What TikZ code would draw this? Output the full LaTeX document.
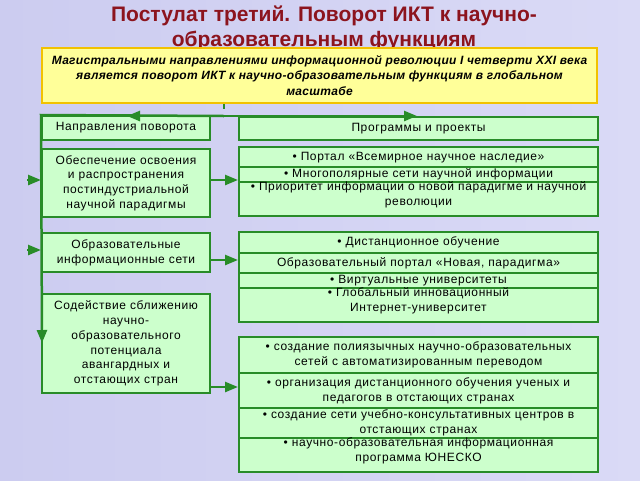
\documentclass[tikz,border=0pt]{standalone}
\usepackage{fontspec}
\setmainfont{Liberation Sans}
\newfontfamily\boxfont[LetterSpace=5]{Liberation Sans}
\newfontfamily\yelfont[LetterSpace=2.5]{Liberation Sans}
\usetikzlibrary{arrows.meta,calc}
\definecolor{bgL}{RGB}{204,204,240}
\definecolor{bgR}{RGB}{218,218,246}
\definecolor{gfill}{RGB}{204,255,204}
\definecolor{gline}{RGB}{40,140,40}
\definecolor{yfill}{RGB}{255,255,153}
\definecolor{yline}{RGB}{242,194,0}
\definecolor{ttl}{RGB}{140,20,30}
\newcommand{\toprow}[2]{\parbox[c][#1][t]{359pt}{\centering #2}}
\tikzset{
 gbox/.style={draw=gline, fill=gfill, line width=2pt, inner sep=0pt, align=center, font=\boxfont\fontsize{12}{14.7}\selectfont},
 lbox/.style={gbox, minimum width=168pt, text width=164pt},
 rbox/.style={gbox, minimum width=359pt, text width=359pt},
 conn/.style={draw=gline, line width=2.5pt},
 arr/.style={conn, -{Triangle[length=13pt,width=10pt]}},
}
\begin{document}
\begin{tikzpicture}[x=1pt,y=-1pt]
\useasboundingbox (0,0) rectangle (640,480);
\shade[left color=bgL, right color=bgR] (0,0) rectangle (640,480);
% title
\node[anchor=north, inner sep=0pt, align=center, text=ttl, font=\bfseries\fontsize{21}{25}\selectfont] (title) at (324,6)
 {Постулат третий. Поворот ИКТ к научно-\\образовательным функциям};
% yellow box
\node[draw=yline, fill=yfill, line width=2.5pt, minimum width=555pt, minimum height=55pt, inner sep=0pt, align=center,
 font=\yelfont\bfseries\itshape\fontsize{12}{15.5}\selectfont] (yel) at (319.5,75.5)
 {Магистральными направлениями информационной революции I четверти XXI века\\является поворот ИКТ к научно-образовательным функциям в глобальном\\масштабе};
% left column
\node[lbox, minimum height=24pt] (n1) at (126,128) {Направления поворота};
\node[lbox, minimum height=68pt] (n2) at (126,183) {Обеспечение освоения\\и распространения\\постиндустриальной\\научной парадигмы};
\node[lbox, minimum height=39pt] (n3) at (126,252.5) {Образовательные\\информационные сети};
\node[lbox, minimum height=99pt] (n4) at (126,343.5) {Содействие сближению\\научно-\\образовательного\\потенциала\\авангардных и\\отстающих стран};
% right column
\node[rbox, minimum height=23pt] (p0) at (418.5,128.5) {Программы и проекты};
\node[rbox, minimum height=21pt] (g1a) at (418.5,157.5) {• Портал «Всемирное научное наследие»};
\node[rbox, minimum height=15pt] (g1b) at (418.5,174.5) {• Многополярные сети научной информации};
\node[rbox, minimum height=34pt] (g1c) at (418.5,199) {\toprow{34pt}{• Приоритет информации о новой парадигме и научной\\революции}};
\node[rbox, minimum height=21pt] (g2a) at (418.5,242.5) {• Дистанционное обучение};
\node[rbox, minimum height=20pt] (g2b) at (418.5,263) {Образовательный портал «Новая, парадигма»};
\node[rbox, minimum height=15pt] (g2c) at (418.5,280.5) {• Виртуальные университеты};
\node[rbox, minimum height=34pt] (g2d) at (418.5,305) {\toprow{34pt}{• Глобальный инновационный\\Интернет-университет}};
\node[rbox, minimum height=36pt] (g3a) at (418.5,355) {• создание полиязычных научно-образовательных\\сетей с автоматизированным переводом};
\node[rbox, minimum height=35pt] (g3b) at (418.5,390.5) {• организация дистанционного обучения ученых и\\педагогов в отстающих странах};
\node[rbox, minimum height=30pt] (g3c) at (418.5,423) {• создание сети учебно-консультативных центров в\\отстающих странах};
\node[rbox, minimum height=34pt] (g3d) at (418.5,455) {\toprow{34pt}{• научно-образовательная информационная\\программа ЮНЕСКО}};
% connectors
\coordinate (split) at (224,116);
\coordinate (midL) at (127,116);
\coordinate (rEnd) at (417,116);
\coordinate (downEnd) at (42,343);
\coordinate (sa1) at (27,180);
\coordinate (sa2) at (27,250);
\draw[gline, line width=2pt] (yel.south -| split) -- ++(0,5);
\draw[arr] (split) -- (n1.north west) -- (downEnd);
\draw[arr] (split) -- (midL);
\draw[arr] (split) -- (rEnd);
\draw[arr] (sa1) -- (sa1 -| n2.west);
\draw[arr] (sa2) -- (sa2 -| n3.west);
\draw[arr] ([yshift=3pt]n2.east) -- ([yshift=3pt]n2.east -| g1a.west);
\draw[arr] ([yshift=-7.5pt]n3.east) -- ([yshift=-7.5pt]n3.east -| g2a.west);
\draw[arr] ([yshift=7pt]n4.south east) -- ([yshift=7pt]n4.south east -| g3a.west);
\end{tikzpicture}
\end{document}
